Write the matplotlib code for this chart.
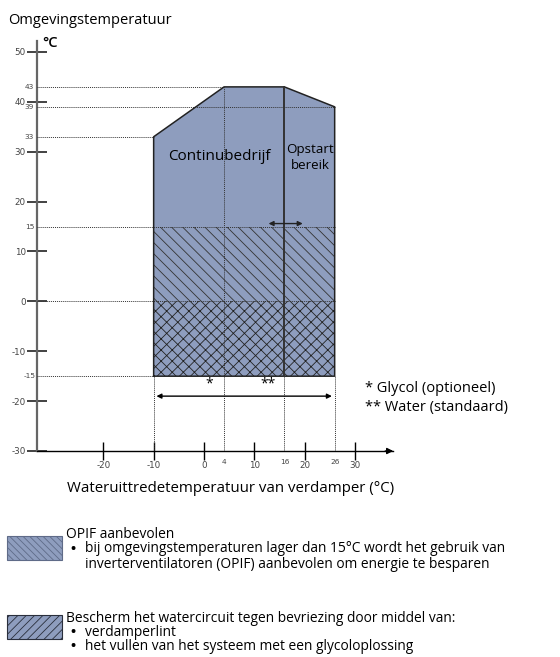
import matplotlib
matplotlib.use('Agg')
import matplotlib.pyplot as plt
from matplotlib.patches import Rectangle

plt.rcParams['font.family'] = ['Open Sans', 'DejaVu Sans']
plt.rcParams['hatch.linewidth'] = 0.6

# operating envelope (x = water outlet temp, y = ambient temp)
env_x = [-10, -10, 4, 16, 26, 26]
env_y = [-15, 33, 43, 43, 39, -15]
startup_x = 16          # border continuous operation / start-up range
opif_band = [0, 15]     # OPIF recommended
frost_band = [-15, 0]   # freeze protection
glycol_range = [-10, 26]
yticks = [-30, -20, -10, 0, 10, 20, 30, 40, 50]
xticks = [-20, -10, 0, 10, 20, 30]
ymarks = [43, 39, 33, 15, -15]
xmarks = [4, 16, 26]
# guide lines: (y, x_end) horizontal, (x, y_end) vertical
hguides = [(43, 4), (39, 26), (33, -10), (15, 26), (0, 26), (-15, -10)]
vguides = [(-10, -15), (4, 43), (16, -15), (26, -15)]

fill_col = '#8e9dbe'
narrow = ['Liberation Sans Narrow', 'DejaVu Sans']

fig = plt.figure(figsize=(5.6, 6.57), dpi=100)
W, H = 560, 657
ax = fig.add_axes([37 / W, 206 / H, 356 / W, 410 / H])
ax.set_xlim(-33.2, 37.6)
ax.set_ylim(-30, 52.2)
x0 = ax.get_xlim()[0]

for s in ['top', 'right']:
    ax.spines[s].set_visible(False)
ax.spines['left'].set_color('#666666')
ax.spines['left'].set_linewidth(1.6)
ax.spines['bottom'].set_color('black')
ax.spines['bottom'].set_linewidth(1.0)

ax.set_yticks(yticks)
ax.set_yticklabels([str(v) for v in yticks], family=narrow, color='#444444')
ax.set_xticks(xticks)
ax.set_xticklabels([str(v) for v in xticks], family=narrow, color='#444444')
ax.tick_params(axis='y', direction='inout', length=14, width=1.2, labelsize=6.3, pad=1, color='#222222')
ax.tick_params(axis='x', direction='inout', length=13, width=1.0, labelsize=6.3, pad=1, color='black')

# envelope fill + hatching
ax.fill(env_x, env_y, color=fill_col, lw=0, zorder=1)
ax.fill_between(glycol_range, opif_band[0], opif_band[1], facecolor='none',
                edgecolor='#333333', hatch='\\\\\\', lw=0, zorder=2)
ax.fill_between(glycol_range, frost_band[0], frost_band[1], facecolor='none',
                edgecolor='#222222', hatch='xxx', lw=0, zorder=2)
ax.plot(env_x + [env_x[0]], env_y + [env_y[0]], color='#222222', lw=1.1, zorder=4)
ax.plot([startup_x, startup_x], [env_y[0], max(env_y)], color='#333333', lw=1.4, zorder=4)

# dotted guide lines
for y, xe in hguides:
    ax.plot([x0, xe], [y, y], ls=(0, (1, 1)), color='#333333', lw=0.7, zorder=3)
for x, ye in vguides:
    ax.plot([x, x], [-30, ye], ls=(0, (1, 1)), color='#333333', lw=0.7, zorder=3)

# extra tick labels
for v in ymarks:
    ax.text(-34.7, v, str(v), fontsize=5.3, family=narrow, color='#444444',
            ha='center', va='center', clip_on=False)
for v in xmarks:
    ax.text(v, -32.2, str(v), fontsize=5.3, family=narrow, color='#444444',
            ha='center', va='center', clip_on=False)

# x-axis arrow head
ax.annotate('', xy=(38.2, -30), xytext=(35.5, -30),
            arrowprops=dict(arrowstyle='-|>', color='black', lw=1, mutation_scale=9),
            annotation_clip=False)

# arrows
ax.annotate('', xy=(glycol_range[0], -19), xytext=(glycol_range[1], -19),
            arrowprops=dict(arrowstyle='<|-|>', color='black', lw=1, mutation_scale=7))
ax.annotate('', xy=(12.3, 15.6), xytext=(20.2, 15.6),
            arrowprops=dict(arrowstyle='<|-|>', color='#222222', lw=1, mutation_scale=7),
            zorder=5)

# texts inside chart
ax.text(3.0, 29, 'Continubedrijf', fontsize=11, ha='center', va='center', zorder=6)
ax.text(21.1, 28.8, 'Opstart\nbereik', fontsize=9.6, ha='center', va='center',
        linespacing=1.3, zorder=6)
ax.text(1, -16.6, '*', fontsize=10, ha='center', va='center')
ax.text(12.7, -16.6, '**', fontsize=10, ha='center', va='center')
ax.text(32, -17.4, '* Glycol (optioneel)', fontsize=10.5, ha='left', va='center', clip_on=False)
ax.text(32, -21.2, '** Water (standaard)', fontsize=10.5, ha='left', va='center', clip_on=False)


def ftext(x, y, s, **kw):
    fig.text(x / W, 1 - y / H, s, va='center', **kw)


ftext(8, 20, 'Omgevingstemperatuur', fontsize=10.5)
ftext(42, 43, '°C', fontsize=10.5, weight='semibold')
ftext(231, 488, 'Wateruittredetemperatuur van verdamper (°C)', fontsize=10.8, ha='center')

# bottom legend
fig.add_artist(Rectangle((7 / W, 1 - 560 / H), 55 / W, 24 / H, transform=fig.transFigure,
                         facecolor=fill_col, edgecolor='#5f6b88', hatch='\\\\\\\\\\', lw=0.8))
fig.add_artist(Rectangle((7 / W, 1 - 639 / H), 55 / W, 24 / H, transform=fig.transFigure,
                         facecolor=fill_col, edgecolor='#2a2f3c', hatch='////', lw=0.8))

fs = 9.9
ftext(66, 534, 'OPIF aanbevolen', fontsize=fs)
ftext(70, 549, '•', fontsize=fs, weight='bold')
ftext(85, 549, 'bij omgevingstemperaturen lager dan 15°C wordt het gebruik van', fontsize=fs)
ftext(85, 564, 'inverterventilatoren (OPIF) aanbevolen om energie te besparen', fontsize=fs)
ftext(66, 618, 'Bescherm het watercircuit tegen bevriezing door middel van:', fontsize=fs)
ftext(70, 632, '•', fontsize=fs, weight='bold')
ftext(85, 632, 'verdamperlint', fontsize=fs)
ftext(70, 646, '•', fontsize=fs, weight='bold')
ftext(85, 646, 'het vullen van het systeem met een glycoloplossing', fontsize=fs)

fig.savefig('out.png', dpi=100)
